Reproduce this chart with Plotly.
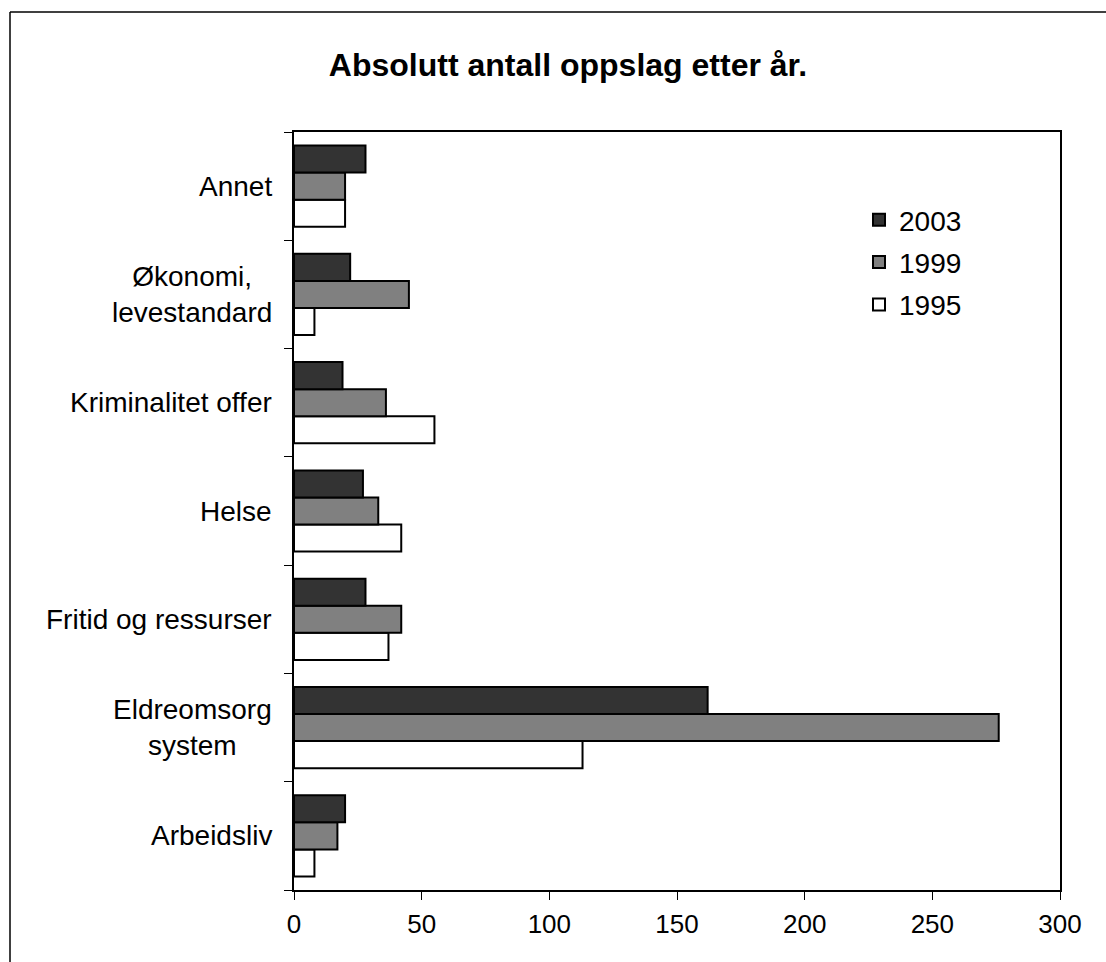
import plotly.graph_objects as go

categories = ["Arbeidsliv", "Eldreomsorg<br>system", "Fritid og ressurser", "Helse",
              "Kriminalitet offer", "Økonomi,<br>levestandard", "Annet"]
years = ["1995", "1999", "2003"]
values_1995 = [8, 113, 37, 42, 55, 8, 20]
values_1999 = [17, 276, 42, 33, 36, 45, 20]
values_2003 = [20, 162, 28, 27, 19, 22, 28]
x_ticks = [0, 50, 100, 150, 200, 250, 300]

series = {"1995": values_1995, "1999": values_1999, "2003": values_2003}
colors = {"1995": "#ffffff", "1999": "#808080", "2003": "#333333"}
ranks = {"1995": 3, "1999": 2, "2003": 1}

W, H = 1106, 962
L, R, T, B = 294, 46, 132, 72
pw, ph = W - L - R, H - T - B

FONT = "Liberation Sans, Arial, sans-serif"

fig = go.Figure()
for yr in years:
    fig.add_trace(go.Bar(
        y=list(range(len(categories))), x=series[yr], orientation="h", name=yr,
        legendgroup=yr, legendrank=ranks[yr],
        marker=dict(color=colors[yr], line=dict(color="#000000", width=2)),
    ))

annotations = []
for i, c in enumerate(categories):
    annotations.append(dict(
        text=c, x=0, xref="paper", y=i, yref="y", xanchor="right", yanchor="middle",
        xshift=-20, align="center", showarrow=False,
        font=dict(family=FONT, size=28, color="#000000")))

def px_x(px):
    return (px - L) / pw

def px_y(py):
    return (H - B - py) / ph

shapes = [
    dict(type="line", xref="paper", yref="paper", x0=px_x(10), x1=px_x(1200),
         y0=px_y(12), y1=px_y(12), line=dict(color="#000000", width=1.5)),
    dict(type="line", xref="paper", yref="paper", x0=px_x(10), x1=px_x(10),
         y0=px_y(12), y1=px_y(1100), line=dict(color="#000000", width=1.5)),
]

fig.update_layout(
    width=W, height=H,
    margin=dict(l=L, r=R, t=T, b=B),
    paper_bgcolor="#ffffff", plot_bgcolor="#ffffff",
    barmode="group", bargap=0.25, bargroupgap=0,
    font=dict(family=FONT, size=26, color="#000000"),
    title=dict(text="<b>Absolutt antall oppslag etter år.</b>",
               x=px_x(568), xref="paper", xanchor="center",
               y=1 - 65 / H, yref="container", yanchor="middle",
               font=dict(family=FONT, size=32, color="#000000")),
    legend=dict(x=px_x(859), y=px_y(195), xanchor="left", yanchor="top",
                traceorder="grouped", tracegroupgap=3,
                font=dict(family=FONT, size=28, color="#000000"),
                bgcolor="rgba(0,0,0,0)"),
    xaxis=dict(range=[0, 300], tickvals=x_ticks, ticktext=[str(v) for v in x_ticks],
               ticks="outside", ticklen=8, tickwidth=1, tickcolor="#000000",
               showgrid=False, zeroline=False, showline=True, linecolor="#000000",
               linewidth=2, mirror=True, ticklabelstandoff=2,
               tickfont=dict(family=FONT, size=26, color="#000000")),
    yaxis=dict(range=[-0.5, len(categories) - 0.5],
               tickvals=[i - 0.5 for i in range(len(categories) + 1)],
               ticktext=[""] * (len(categories) + 1),
               ticks="outside", ticklen=8, tickwidth=1, tickcolor="#000000",
               showgrid=False, zeroline=False, showline=True, linecolor="#000000",
               linewidth=2, mirror=True),
    annotations=annotations,
    shapes=shapes,
)

fig.write_html("out.html", config={"displayModeBar": False},
               post_script="document.body.style.margin='0';")
